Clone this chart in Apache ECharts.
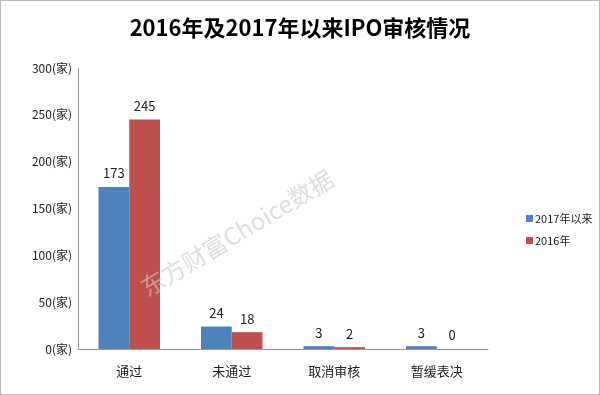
<!DOCTYPE html>
<html><head><meta charset="utf-8">
<script src="https://cdn.jsdelivr.net/npm/echarts@6/dist/echarts.min.js"></script>
<style>html,body{margin:0;padding:0;background:#fff}#c{width:600px;height:395px;box-sizing:border-box;border:1px solid #bbb}</style>
</head><body><div id="c"></div>
<script>
const categories = ['通过', '未通过', '取消审核', '暂缓表决'];
const s2017 = [173, 24, 3, 3];
const s2016 = [245, 18, 2, 0];
const seriesNames = ['2017年以来', '2016年'];
const yTicks = [0, 50, 100, 150, 200, 250, 300];

const chart = echarts.init(document.getElementById('c'));
const font = '"Microsoft YaHei","Noto Sans CJK SC",sans-serif';
chart.setOption({
  animation: false,
  title: {
    text: '2016年及2017年以来IPO审核情况', left: 'center', top: 11,
    textStyle: { fontSize: 22, fontWeight: 'bold', color: '#000', fontFamily: font }
  },
  legend: {
    orient: 'vertical', left: 520, top: 207, itemWidth: 7, itemHeight: 7, itemGap: 11,
    icon: 'rect', data: seriesNames,
    textStyle: { fontSize: 11, color: '#222', fontFamily: font, padding: [0, 0, 0, -3] }
  },
  grid: { left: 77, right: 111, top: 67, bottom: 45 },
  xAxis: {
    type: 'category', data: categories,
    axisLine: { lineStyle: { color: '#999' } }, axisTick: { show: false },
    axisLabel: { fontSize: 13, color: '#222', margin: 16, fontFamily: font }
  },
  yAxis: {
    type: 'value', min: 0, max: 300, interval: 50,
    axisLine: { show: true, lineStyle: { color: '#999' } }, axisTick: { show: false },
    splitLine: { show: false },
    axisLabel: { fontSize: 12, color: '#222', margin: 6, fontFamily: font,
      formatter: v => yTicks.includes(v) ? v + '(家)' : '' }
  },
  series: [
    { name: seriesNames[0], type: 'bar', data: s2017, barGap: '0%', barCategoryGap: '40%',
      itemStyle: { color: '#4f81bd' },
      label: { show: true, position: 'top', distance: 7, fontSize: 13, color: '#222', fontFamily: font } },
    { name: seriesNames[1], type: 'bar', data: s2016,
      itemStyle: { color: '#c0504d' },
      label: { show: true, position: 'top', distance: 7, fontSize: 13, color: '#222', fontFamily: font } }
  ],
  graphic: [{
    type: 'text', x: 236, y: 232, rotation: Math.PI / 5.8, z: 100,
    style: { text: '东方财富Choice数据', fontSize: 24, fill: 'rgba(200,200,200,0.6)',
      fontFamily: font, align: 'center', verticalAlign: 'middle' }
  }]
});
</script></body></html>
